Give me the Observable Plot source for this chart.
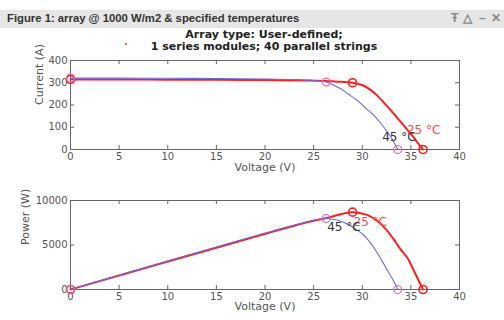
<!DOCTYPE html>
<html>
<head>
<meta charset="utf-8">
<script src="https://cdn.jsdelivr.net/npm/d3@7"></script>
<script src="https://cdn.jsdelivr.net/npm/@observablehq/plot@0.6"></script>
<style>
  html, body { margin: 0; padding: 0; background: #fff; }
  #root { position: relative; width: 504px; height: 320px; overflow: hidden; background: #fff; }
  #bar { position: absolute; left: 0; top: 10px; width: 504px; height: 18px; background: #e6e6e6;
         font-family: "Liberation Sans", Arial, sans-serif; font-weight: bold; font-size: 11.3px; color: #333; }
  #bar .t { position: absolute; left: 7px; top: 2px; white-space: nowrap; }
  #bar .ic { position: absolute; top: 1px; color: #888; font-size: 12px; }
  #sup { position: absolute; left: 0; width: 528px; top: 29px; text-align: center;
         font-family: "DejaVu Sans", sans-serif; font-weight: bold; font-size: 11px; line-height: 12px; color: #222; }
  #dot { position: absolute; left: 125px; top: 43px; width: 2px; height: 2px; background: #f33; border-radius: 1px; }
  .plt { position: absolute; left: 0; }
</style>
</head>
<body>
<div id="root">
  <div id="bar"><span class="t">Figure 1: array @ 1000 W/m2 &amp; specified temperatures</span>
    <span class="ic" style="left:451px">Ŧ</span>
    <span class="ic" style="left:463px">△</span>
    <span class="ic" style="left:479px">–</span>
    <span class="ic" style="left:491px">✕</span>
  </div>
  <div id="sup">Array type: User-defined;<br>1 series modules; 40 parallel strings</div>
  <div id="dot"></div>
  <div id="top" class="plt" style="top:50px"></div>
  <div id="bot" class="plt" style="top:180px"></div>
</div>
<script>
// ---- data ----
const xTicks = [0, 5, 10, 15, 20, 25, 30, 35, 40];
const iTicks = [0, 100, 200, 300, 400];
const pTicks = [0, 5000, 10000];
const labels = ["25 °C", "45 °C"];

// I-V curve, 25 °C
const ivV25 = [0, 5, 10, 15, 20, 24, 26, 27.5, 29.0, 30.0, 30.85, 31.6, 32.2, 32.9, 33.6, 34.3, 35.0, 35.5, 35.8, 36.25];
const ivI25 = [315, 315, 314, 313, 312, 310, 308, 305, 300, 290, 268, 240, 212, 178, 142, 106, 70, 42, 24, 0];
// I-V curve, 45 °C
const ivV45 = [0, 5, 10, 15, 20, 23, 25, 26.3, 27.0, 27.8, 28.6, 29.5, 30.3, 31.2, 31.9, 32.6, 33.1, 33.65];
const ivI45 = [321, 321, 320, 319, 317, 314, 310, 303, 290, 273, 248, 220, 188, 153, 118, 78, 45, 0];

// P-V curve, 25 °C
const pvV25 = [0, 5, 10, 15, 20, 23.65, 26.3, 29.0, 30.5, 31.5, 32.4, 33.2, 33.9, 34.7, 35.3, 35.8, 36.25];
const pvP25 = [0, 1575, 3140, 4700, 6240, 7360, 8030, 8690, 8390, 7750, 6820, 5690, 4570, 3450, 2140, 1010, 0];
// P-V curve, 45 °C
const pvV45 = [0, 5, 10, 15, 20, 23.65, 26.3, 27.4, 28.4, 29.3, 30.2, 30.9, 31.5, 32.1, 32.7, 33.2, 33.65];
const pvP45 = [0, 1600, 3200, 4780, 6340, 7420, 7980, 7800, 7380, 6800, 6070, 5150, 4190, 3100, 1940, 1000, 0];

// key points (Isc, MPP, Voc)
const keyV25 = [0, 29.0, 36.25];
const keyI25 = [315, 300, 0];
const keyP25 = [0, 8690, 0];
const keyV45 = [0, 26.3, 33.65];
const keyI45 = [321, 303, 0];
const keyP45 = [0, 7980, 0];

// label anchor positions
const ivLabelV = [34.6, 32.05];
const ivLabelI = [108, 78];
const pvLabelV = [29.1, 26.4];
const pvLabelP = [8100, 7500];

// ---- build tables ----
const zipXY = (xs, ys) => xs.map((x, k) => ({x, y: ys[k]}));
const red = "#ff1f1f", blue = "#6b6be0", pink = "#e06ab0", frameC = "#666", txt = "#555";

function chart(opt) {
  const H = opt.height;
  const plotH = H - opt.mt - 31;
  return Plot.plot({
    width: 504, height: H,
    marginTop: opt.mt, marginBottom: 31, marginLeft: 70, marginRight: 45,
    style: {background: "transparent", fontFamily: "DejaVu Sans", fontSize: "10px", color: txt, overflow: "visible"},
    x: {domain: [0, 40]},
    y: {domain: opt.ydomain},
    marks: [
      Plot.tickX(xTicks, {x: d => d, insetTop: plotH - 4, stroke: frameC}),
      Plot.tickX(xTicks, {x: d => d, insetBottom: plotH - 4, stroke: frameC}),
      Plot.tickY(opt.yticks, {y: d => d, insetRight: 389 - 4, stroke: frameC}),
      Plot.tickY(opt.yticks, {y: d => d, insetLeft: 389 - 4, stroke: frameC}),
      Plot.frame({stroke: frameC}),
      Plot.axisX({ticks: xTicks, tickSize: 0, tickPadding: 3, label: null, fill: txt, tickFormat: d3.format("d")}),
      Plot.axisY({ticks: opt.yticks, tickSize: 0, tickPadding: 3, label: null, fill: txt, tickFormat: d3.format("d")}),
      Plot.text(["Voltage (V)"], {frameAnchor: "bottom", dy: opt.xlabDy, fontSize: 11, fill: txt}),
      Plot.text([opt.ylabel], {frameAnchor: "left", dx: opt.ylabDx, rotate: -90, fontSize: 11, fill: txt}),
      Plot.line(opt.c25, {x: "x", y: "y", stroke: red, strokeWidth: 2, curve: "monotone-x"}),
      Plot.line(opt.c45, {x: "x", y: "y", stroke: blue, strokeWidth: 1.1, curve: "monotone-x"}),
      Plot.dot(opt.k25, {x: "x", y: "y", r: 4, stroke: red, strokeWidth: 1.6, fill: "none"}),
      Plot.dot(opt.k45, {x: "x", y: "y", r: 4, stroke: pink, strokeWidth: 1.2, fill: "none"}),
      Plot.text(opt.lab, {x: "x", y: "y", text: "t", fill: d => d.c, textAnchor: "start", lineAnchor: "top", fontSize: 12})
    ]
  });
}

const topLab = labels.map((t, k) => ({t, x: ivLabelV[k], y: ivLabelI[k], c: k === 0 ? "#ff4a4a" : "#333"}));
const botLab = labels.map((t, k) => ({t, x: pvLabelV[k], y: pvLabelP[k], c: k === 0 ? "#ff4a4a" : "#333"}));

document.getElementById("top").appendChild(chart({
  height: 130, mt: 10, ydomain: [0, 400], yticks: iTicks,
  ylabel: "Current (A)", ylabDx: -31, xlabDy: 21,
  c25: zipXY(ivV25, ivI25), c45: zipXY(ivV45, ivI45),
  k25: zipXY(keyV25, keyI25), k45: zipXY(keyV45, keyI45), lab: topLab
}));
document.getElementById("bot").appendChild(chart({
  height: 140, mt: 20, ydomain: [0, 10000], yticks: pTicks,
  ylabel: "Power (W)", ylabDx: -45, xlabDy: 20,
  c25: zipXY(pvV25, pvP25), c45: zipXY(pvV45, pvP45),
  k25: zipXY(keyV25, keyP25), k45: zipXY(keyV45, keyP45), lab: botLab
}));
</script>
</body>
</html>
